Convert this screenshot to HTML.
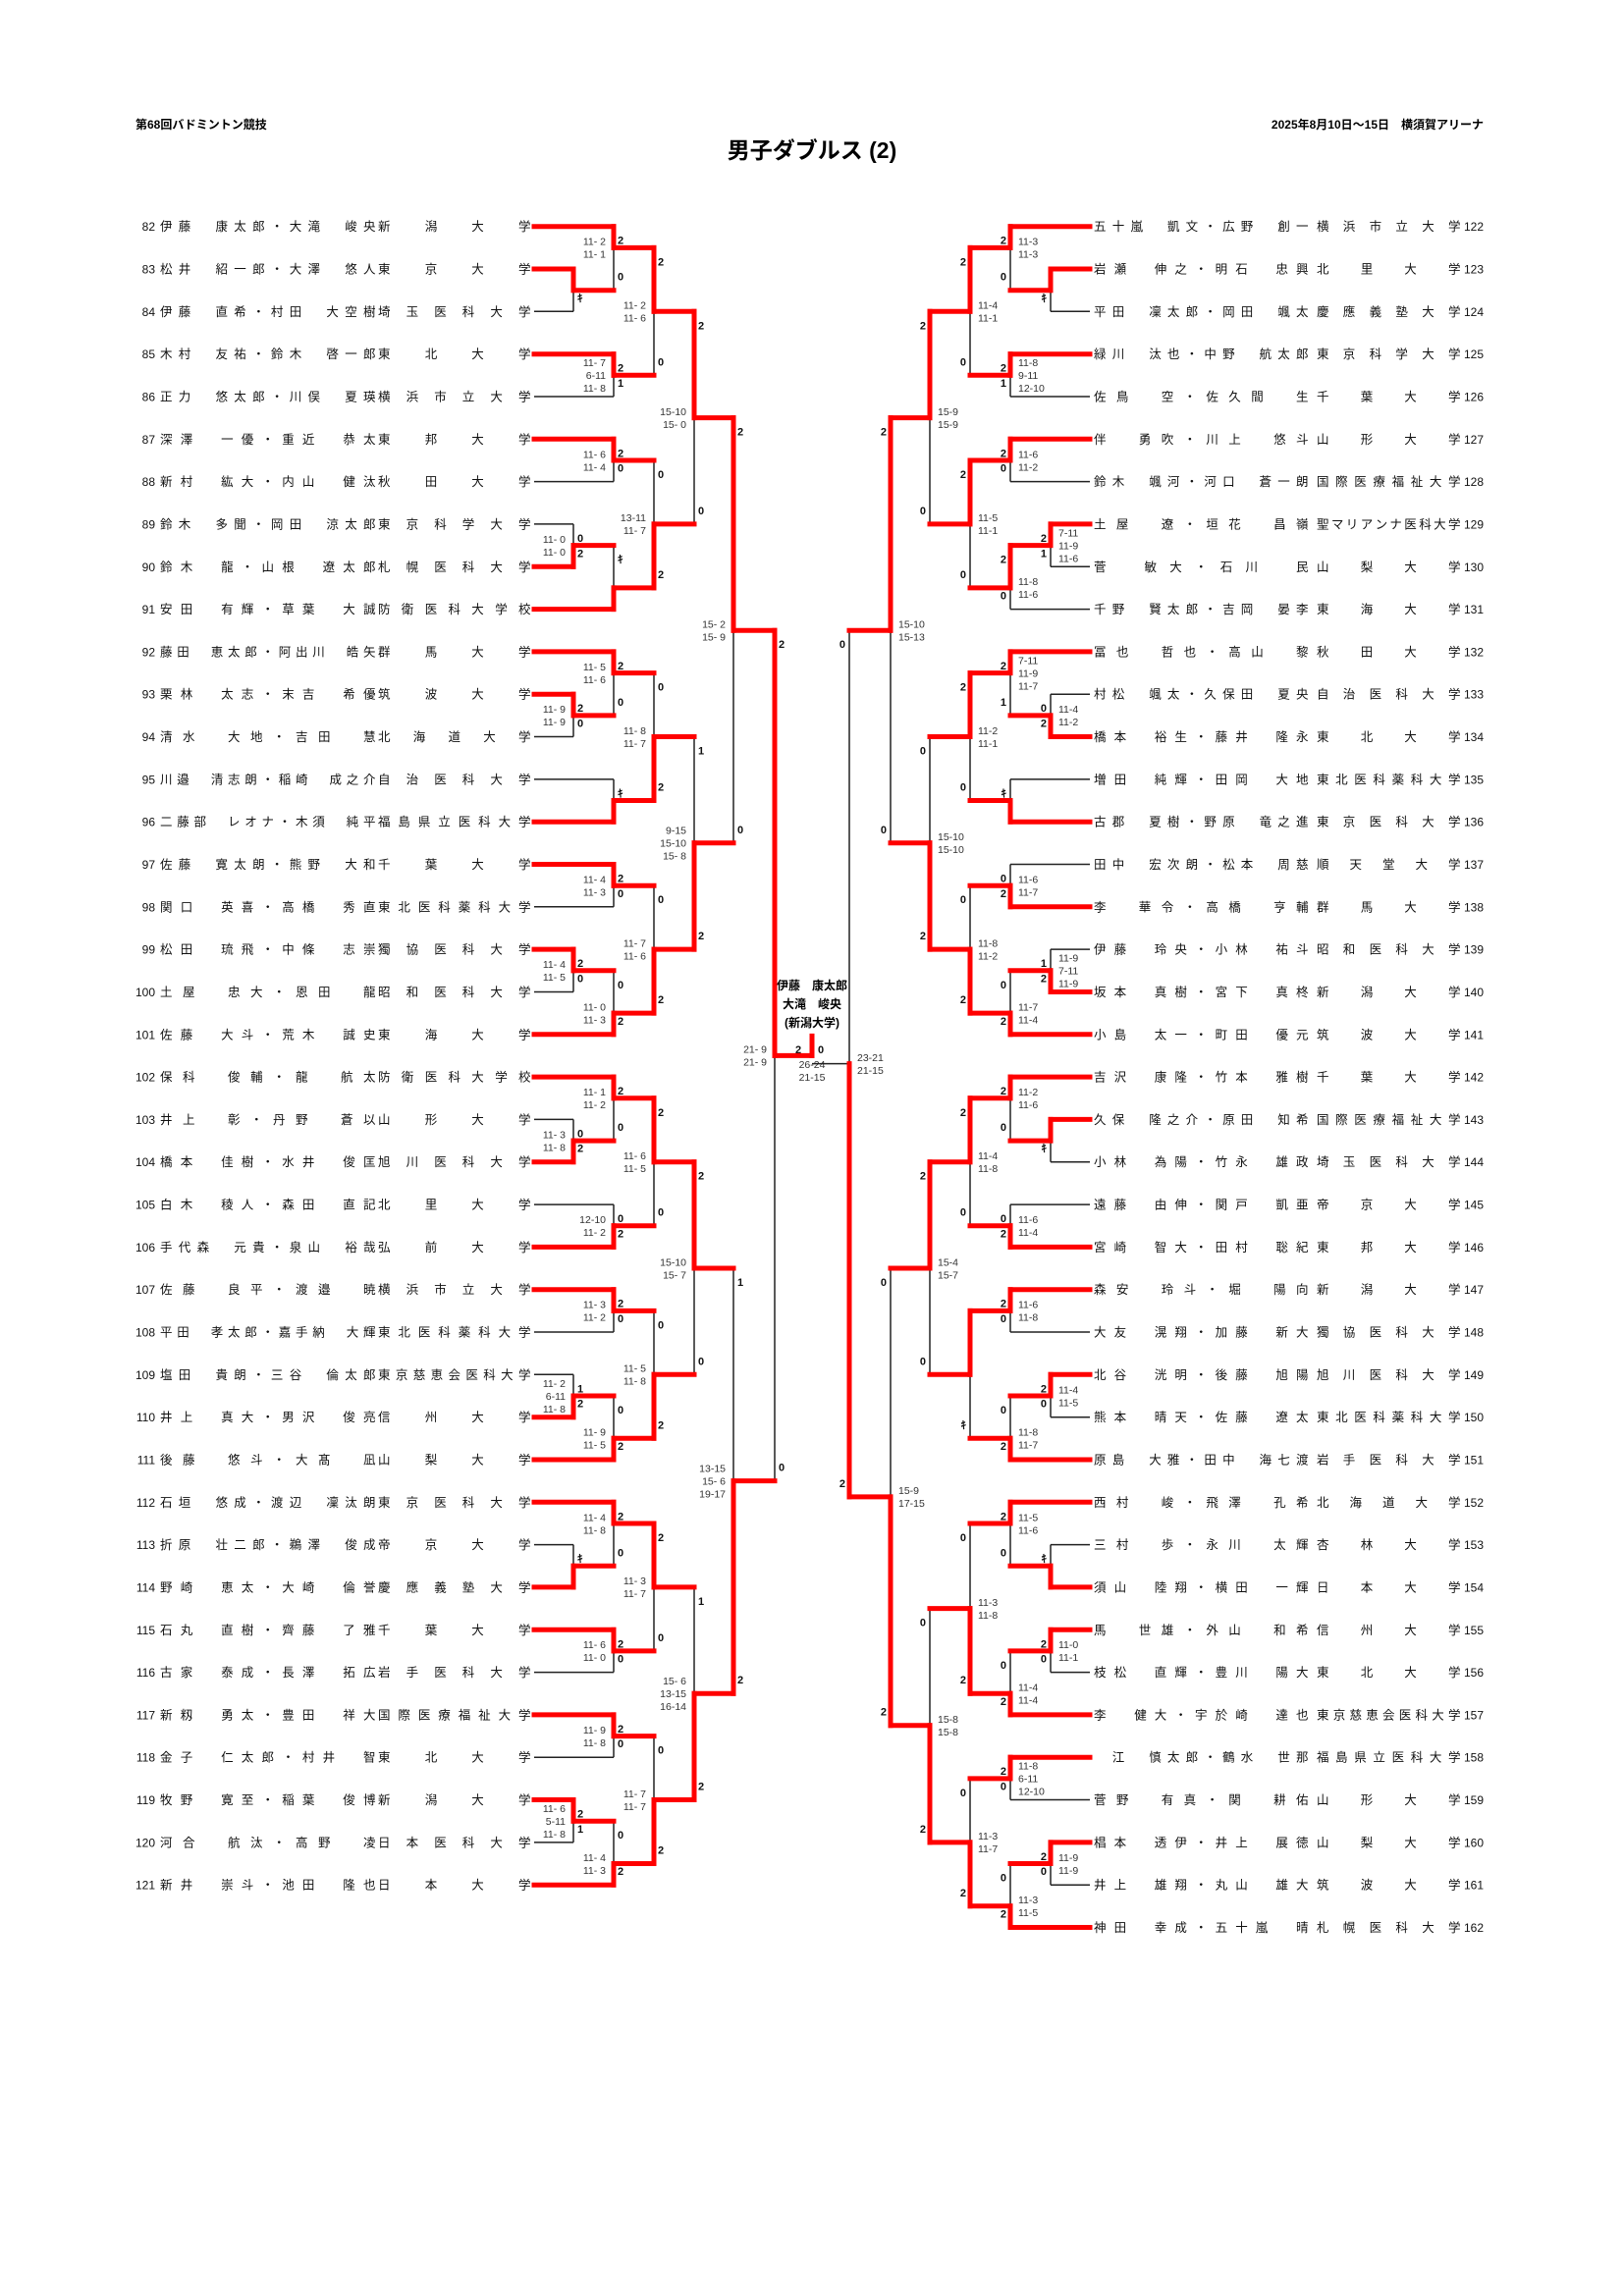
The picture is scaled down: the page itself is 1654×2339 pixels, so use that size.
<!DOCTYPE html>
<html><head><meta charset="utf-8">
<style>
html,body{margin:0;padding:0;background:#fff;}
svg{display:block;}
.nm{font-family:"Liberation Sans","Noto Sans CJK JP",sans-serif;font-size:12.5px;fill:#111;}
.no{font-family:"Liberation Sans Narrow","Liberation Sans",sans-serif;font-size:12px;fill:#111;}
.sc{font-family:"Liberation Sans Narrow","Liberation Sans",sans-serif;font-size:10.5px;fill:#333;}
.ct{font-family:"Liberation Sans",sans-serif;font-size:11px;font-weight:bold;fill:#111;}
.hd{font-family:"Liberation Sans","Noto Sans CJK JP",sans-serif;font-weight:bold;fill:#000;}
</style></head>
<body>
<svg id="s" width="1654" height="2339" xmlns="http://www.w3.org/2000/svg">
<rect width="1654" height="2339" fill="#fff"/>
<text class="hd" x="138" y="131" font-size="12">第68回バドミントン競技</text>
<text class="hd" x="1511" y="131" font-size="12" text-anchor="end">2025年8月10日～15日　横須賀アリーナ</text>
<text class="hd" x="827" y="161" font-size="23" text-anchor="middle">男子ダブルス (2)</text>
<text class="hd" x="827" y="1008" font-size="12" text-anchor="middle">伊藤　康太郎</text>
<text class="hd" x="827" y="1027" font-size="12" text-anchor="middle">大滝　峻央</text>
<text class="hd" x="827" y="1046" font-size="12" text-anchor="middle">(新潟大学)</text>
<text class="ct" x="813" y="1073" font-size="13" text-anchor="middle">2</text>
<text class="ct" x="836" y="1073" font-size="13" text-anchor="middle">0</text>
<text class="sc" x="827" y="1088" text-anchor="middle">26-24</text>
<text class="sc" x="827" y="1101" text-anchor="middle">21-15</text>
<g id="g"></g>
</svg>
<script>
const L=[
[82,"伊藤 康太郎・大滝 峻央","新潟大学"],[83,"松井 紹一郎・大澤 悠人","東京大学"],[84,"伊藤 直希・村田 大空樹","埼玉医科大学"],[85,"木村 友祐・鈴木 啓一郎","東北大学"],[86,"正力 悠太郎・川俣 夏瑛","横浜市立大学"],
[87,"深澤 一優・重近 恭太","東邦大学"],[88,"新村 紘大・内山 健汰","秋田大学"],[89,"鈴木 多聞・岡田 涼太郎","東京科学大学"],[90,"鈴木 龍・山根 遼太郎","札幌医科大学"],[91,"安田 有輝・草葉 大誠","防衛医科大学校"],
[92,"藤田 恵太郎・阿出川 皓矢","群馬大学"],[93,"栗林 太志・末吉 希優","筑波大学"],[94,"清水 大地・吉田 慧","北海道大学"],[95,"川邉 清志朗・稲崎 成之介","自治医科大学"],[96,"二藤部 レオナ・木須 純平","福島県立医科大学"],
[97,"佐藤 寛太朗・熊野 大和","千葉大学"],[98,"関口 英喜・高橋 秀直","東北医科薬科大学"],[99,"松田 琉飛・中條 志崇","獨協医科大学"],[100,"土屋 忠大・恩田 龍","昭和医科大学"],[101,"佐藤 大斗・荒木 誠史","東海大学"],
[102,"保科 俊輔・龍 航太","防衛医科大学校"],[103,"井上 彰・丹野 蒼以","山形大学"],[104,"橋本 佳樹・水井 俊匡","旭川医科大学"],[105,"白木 稜人・森田 直記","北里大学"],[106,"手代森 元貴・泉山 裕哉","弘前大学"],
[107,"佐藤 良平・渡邉 暁","横浜市立大学"],[108,"平田 孝太郎・嘉手納 大輝","東北医科薬科大学"],[109,"塩田 貴朗・三谷 倫太郎","東京慈恵会医科大学"],[110,"井上 真大・男沢 俊亮","信州大学"],[111,"後藤 悠斗・大髙 凪","山梨大学"],
[112,"石垣 悠成・渡辺 凜汰朗","東京医科大学"],[113,"折原 壮二郎・鵜澤 俊成","帝京大学"],[114,"野崎 恵太・大崎 倫誉","慶應義塾大学"],[115,"石丸 直樹・齊藤 了雅","千葉大学"],[116,"古家 泰成・長澤 拓広","岩手医科大学"],
[117,"新籾 勇太・豊田 祥大","国際医療福祉大学"],[118,"金子 仁太郎・村井 智","東北大学"],[119,"牧野 寛至・稲葉 俊博","新潟大学"],[120,"河合 航汰・高野 凌","日本医科大学"],[121,"新井 崇斗・池田 隆也","日本大学"]];
const R=[
[122,"五十嵐 凱文・広野 創一","横浜市立大学"],[123,"岩瀬 伸之・明石 忠興","北里大学"],[124,"平田 凜太郎・岡田 颯太","慶應義塾大学"],[125,"緑川 汰也・中野 航太郎","東京科学大学"],[126,"佐鳥 空・佐久間 生","千葉大学"],
[127,"伴 勇吹・川上 悠斗","山形大学"],[128,"鈴木 颯河・河口 蒼一朗","国際医療福祉大学"],[129,"土屋 遼・垣花 昌嶺","聖マリアンナ医科大学"],[130,"菅 敏大・石川 民","山梨大学"],[131,"千野 賢太郎・吉岡 晏李","東海大学"],
[132,"冨也 哲也・高山 黎","秋田大学"],[133,"村松 颯太・久保田 夏央","自治医科大学"],[134,"橋本 裕生・藤井 隆永","東北大学"],[135,"増田 純輝・田岡 大地","東北医科薬科大学"],[136,"古郡 夏樹・野原 竜之進","東京医科大学"],
[137,"田中 宏次朗・松本 周慈","順天堂大学"],[138,"李 華令・高橋 亨輔","群馬大学"],[139,"伊藤 玲央・小林 祐斗","昭和医科大学"],[140,"坂本 真樹・宮下 真柊","新潟大学"],[141,"小島 太一・町田 優元","筑波大学"],
[142,"吉沢 康隆・竹本 雅樹","千葉大学"],[143,"久保 隆之介・原田 知希","国際医療福祉大学"],[144,"小林 為陽・竹永 雄政","埼玉医科大学"],[145,"遠藤 由伸・関戸 凱亜","帝京大学"],[146,"宮崎 智大・田村 聡紀","東邦大学"],
[147,"森安 玲斗・堀 陽向","新潟大学"],[148,"大友 滉翔・加藤 新大","獨協医科大学"],[149,"北谷 洸明・後藤 旭陽","旭川医科大学"],[150,"熊本 晴天・佐藤 遼太","東北医科薬科大学"],[151,"原島 大雅・田中 海七渡","岩手医科大学"],
[152,"西村 峻・飛澤 孔希","北海道大学"],[153,"三村 歩・永川 太輝","杏林大学"],[154,"須山 陸翔・横田 一輝","日本大学"],[155,"馬 世雄・外山 和希","信州大学"],[156,"枝松 直輝・豊川 陽大","東北大学"],
[157,"李 健大・宇於崎 達也","東京慈恵会医科大学"],[158," 江 慎太郎・鶴水 世那","福島県立医科大学"],[159,"菅野 有真・関 耕佑","山形大学"],[160,"椙本 透伊・井上 展徳","山梨大学"],[161,"井上 雄翔・丸山 雄大","筑波大学"],[162,"神田 幸成・五十嵐 晴","札幌医科大学"]];
const S=43.32,Y0=230.7;
function rowY(n){return n<122?Y0+(n-82)*S:Y0+(n-122)*S;}
function M(a,b,w,c1,c2,sc){return {a,b,w,c1,c2,sc};}
const isLeaf=x=>typeof x==='number';
const K='ｷ';
const A=M(M(82,M(83,84,0,'',K,[]),0,'2','0',['11- 2','11- 1']),M(85,86,0,'2','1',['11- 7','6-11','11- 8']),0,'2','0',['11- 2','11- 6']);
const B=M(M(87,88,0,'2','0',['11- 6','11- 4']),M(M(89,90,1,'0','2',['11- 0','11- 0']),91,1,K,'',[]),1,'0','2',['13-11','11- 7']);
const AB=M(A,B,0,'2','0',['15-10','15- 0']);
const C=M(M(92,M(93,94,0,'2','0',['11- 9','11- 9']),0,'2','0',['11- 5','11- 6']),M(95,96,1,K,'',[]),1,'0','2',['11- 8','11- 7']);
const D=M(M(97,98,0,'2','0',['11- 4','11- 3']),M(M(99,100,0,'2','0',['11- 4','11- 5']),101,1,'0','2',['11- 0','11- 3']),1,'0','2',['11- 7','11- 6']);
const CD=M(C,D,1,'1','2',['9-15','15-10','15- 8']);
const TOP=M(AB,CD,0,'2','0',['15- 2','15- 9']);
const E=M(M(102,M(103,104,1,'0','2',['11- 3','11- 8']),0,'2','0',['11- 1','11- 2']),M(105,106,1,'0','2',['12-10','11- 2']),0,'2','0',['11- 6','11- 5']);
const F=M(M(107,108,0,'2','0',['11- 3','11- 2']),M(M(109,110,1,'1','2',['11- 2','6-11','11- 8']),111,1,'0','2',['11- 9','11- 5']),1,'0','2',['11- 5','11- 8']);
const EF=M(E,F,0,'2','0',['15-10','15- 7']);
const G=M(M(112,M(113,114,1,K,'',[]),0,'2','0',['11- 4','11- 8']),M(115,116,0,'2','0',['11- 6','11- 0']),0,'2','0',['11- 3','11- 7']);
const H=M(M(117,118,0,'2','0',['11- 9','11- 8']),M(M(119,120,0,'2','1',['11- 6','5-11','11- 8']),121,1,'0','2',['11- 4','11- 3']),1,'0','2',['11- 7','11- 7']);
const GH=M(G,H,1,'1','2',['15- 6','13-15','16-14']);
const BOT=M(EF,GH,1,'1','2',['13-15','15- 6','19-17']);
const LEFT=M(TOP,BOT,0,'2','0',['21- 9','21- 9']);
const RA=M(M(122,M(123,124,0,'',K,[]),0,'2','0',['11-3','11-3']),M(125,126,0,'2','1',['11-8','9-11','12-10']),0,'2','0',['11-4','11-1']);
const RB=M(M(127,128,0,'2','0',['11-6','11-2']),M(M(129,130,0,'2','1',['7-11','11-9','11-6']),131,0,'2','0',['11-8','11-6']),0,'2','0',['11-5','11-1']);
const RAB=M(RA,RB,0,'2','0',['15-9','15-9']);
const RC=M(M(132,M(133,134,1,'0','2',['11-4','11-2']),0,'2','1',['7-11','11-9','11-7']),M(135,136,1,K,'',[]),0,'2','0',['11-2','11-1']);
const RD=M(M(137,138,1,'0','2',['11-6','11-7']),M(M(139,140,1,'1','2',['11-9','7-11','11-9']),141,1,'0','2',['11-7','11-4']),1,'0','2',['11-8','11-2']);
const RCD=M(RC,RD,1,'0','2',['15-10','15-10']);
const RTOP=M(RAB,RCD,0,'2','0',['15-10','15-13']);
const RE=M(M(142,M(143,144,0,'',K,[]),0,'2','0',['11-2','11-6']),M(145,146,1,'0','2',['11-6','11-4']),0,'2','0',['11-4','11-8']);
const RF=M(M(147,148,0,'2','0',['11-6','11-8']),M(M(149,150,0,'2','0',['11-4','11-5']),151,1,'0','2',['11-8','11-7']),0,'',K,[]);
const REF=M(RE,RF,0,'2','0',['15-4','15-7']);
const RG=M(M(152,M(153,154,1,K,'',[]),0,'2','0',['11-5','11-6']),M(M(155,156,0,'2','0',['11-0','11-1']),157,1,'0','2',['11-4','11-4']),1,'0','2',['11-3','11-8']);
const RH=M(M(158,159,0,'2','0',['11-8','6-11','12-10']),M(M(160,161,0,'2','0',['11-9','11-9']),162,1,'0','2',['11-3','11-5']),1,'0','2',['11-3','11-7']);
const RGH=M(RG,RH,1,'0','2',['15-8','15-8']);
const RBOT=M(REF,RGH,1,'0','2',['15-9','17-15']);
const RIGHT=M(RTOP,RBOT,1,'0','2',['23-21','21-15']);

function layout(n){
  if(isLeaf(n)) return rowY(n);
  const ya=layout(n.a),yb=layout(n.b);let y=(ya+yb)/2;
  if(isLeaf(n.a)&&!isLeaf(n.b)&&isLeaf(n.b.a)&&isLeaf(n.b.b)) y=(ya+rowY(n.b.a))/2;
  else if(isLeaf(n.b)&&!isLeaf(n.a)&&isLeaf(n.a.a)&&isLeaf(n.a.b)) y=(yb+rowY(n.a.b))/2;
  n.ya=ya;n.yb=yb;n.y=y;return y;
}
const COLS={L:[584,625,666,707,747,789],R:[1070,1029,988,947,907,865]};
const NE={L:544,R:1110};
let black=[],red=[],txt=[];
function ln(arr,x1,y1,x2,y2){arr.push(`<line x1="${x1}" y1="${y1.toFixed(1)}" x2="${x2}" y2="${y2.toFixed(1)}"/>`);}
function esc(s){return s.replace(/&/g,'&amp;').replace(/</g,'&lt;');}
function draw(n,col,side){
  const cx=COLS[side][col];
  ['a','b'].forEach((k,i)=>{
    const ch=n[k];const yc=i===0?n.ya:n.yb;const win=(i===n.w);
    let fx;
    if(isLeaf(ch)){fx=NE[side];ln(win?red:black,fx,yc,cx,yc);}
    else{draw(ch,col-1,side);fx=COLS[side][col-1];ln(red,fx,yc,cx,yc);}
    ln(win?red:black,cx,yc,cx,n.y);
  });
  const L=side==='L';
  const cxT=L?cx+4:cx-4, anc=L?'start':'end';
  if(n.c1) txt.push(`<text class="ct" x="${cxT}" y="${(n.ya+14+4).toFixed(1)}" text-anchor="${anc}">${n.c1}</text>`);
  if(n.c2) txt.push(`<text class="ct" x="${cxT}" y="${(n.yb-14+4).toFixed(1)}" text-anchor="${anc}">${n.c2}</text>`);
  const sx=L?cx-8:cx+8, sa=L?'end':'start', m=n.sc.length, lh=13;
  n.sc.forEach((s,j)=>{const y=n.y+(j-(m-1)/2)*lh+3.8;
    txt.push(`<text class="sc" x="${sx}" y="${y.toFixed(1)}" text-anchor="${sa}" xml:space="preserve">${s}</text>`);});
}
layout(LEFT);layout(RIGHT);
draw(LEFT,5,'L');draw(RIGHT,5,'R');
ln(red,789,LEFT.y,827,LEFT.y);
ln(black,865,RIGHT.y,827,RIGHT.y);
ln(red,827,LEFT.y-20,827,LEFT.y);
function names(list,side){
  list.forEach(([num,nm,sch])=>{
    const y=rowY(num)+4.5;
    const ns=side==='L'?163:1114, ne=side==='L'?370:1320;
    const ss=side==='L'?385:1341, se=side==='L'?528:1475;
    let cum=0,pos=[],chars=[],first=true;
    for(const c of nm){ if(c===' '){cum+=1;continue;} if(!first)cum+=1; first=false; pos.push(cum); chars.push(c);}
    const tot=Math.max(cum,1);
    const xs=pos.map(p=>(ns+(ne-ns)*p/tot).toFixed(1));
    txt.push(`<text class="nm" y="${y.toFixed(1)}" x="${xs.join(' ')}">${esc(chars.join(''))}</text>`);
    const sc=[...sch];const k=sc.length;
    const sxs=sc.map((c,i)=>(k>1?ss+(se-ss)*i/(k-1):ss).toFixed(1));
    txt.push(`<text class="nm" y="${y.toFixed(1)}" x="${sxs.join(' ')}">${esc(sch)}</text>`);
    if(side==='L') txt.push(`<text class="no" x="158" y="${y.toFixed(1)}" text-anchor="end">${num}</text>`);
    else txt.push(`<text class="no" x="1491" y="${y.toFixed(1)}">${num}</text>`);
  });
}
names(L,'L');names(R,'R');
document.getElementById('g').innerHTML=
 `<g stroke="#222" stroke-width="1.5" fill="none">${black.join('')}</g>`+
 `<g stroke="#ff0000" stroke-width="5" stroke-linecap="square" fill="none">${red.join('')}</g>`+
 txt.join('');
</script>
</body></html>
